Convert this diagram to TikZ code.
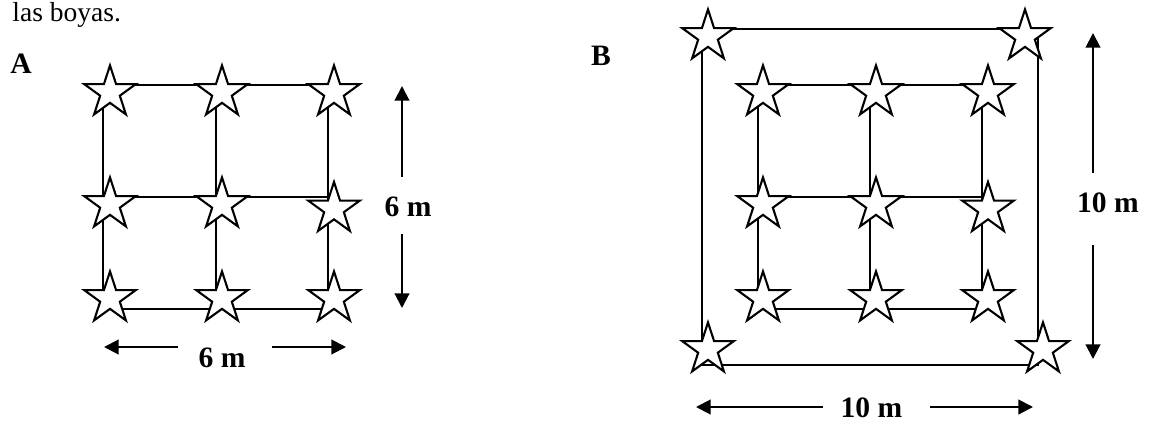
\documentclass[tikz,border=0pt]{standalone}
\usepackage{fontspec}
\setmainfont{Liberation Serif}
\usetikzlibrary{shapes.geometric,arrows.meta}
\begin{document}
\begin{tikzpicture}[x=0.48pt,y=-0.48pt,
  boya/.style={star,star points=5,star point ratio=2.618,draw,fill=white,line width=1pt,inner sep=0pt,minimum size=26pt},
  gridline/.style={line width=1pt},
  dimarrow/.style={line width=1pt,-{Triangle[length=7pt,width=7pt]}},
  lbl/.style={font=\fontsize{14.2}{16}\selectfont\bfseries,anchor=base,inner sep=0pt},
  txt/.style={font=\fontsize{13.2}{15}\selectfont,anchor=base west,inner sep=0pt}
]
\useasboundingbox (0,0) rectangle (1152,424);

% texts
\node[txt] (title) at (12,21) {las boyas.};
\node[lbl] (labA) at (21,73) {A};
\node[lbl] (labB) at (601,65) {B};

% ---------- grid A ----------
\draw[gridline] (103,85) rectangle (328,309);
\draw[gridline] (216,85) -- (216,309);
\draw[gridline] (103,197) -- (328,197);

\node[boya] (a11) at (110,92.5) {};
\node[boya] (a12) at (222,92.5) {};
\node[boya] (a13) at (334,92.5) {};
\node[boya] (a21) at (110,204.5) {};
\node[boya] (a22) at (222,204.5) {};
\node[boya] (a23) at (334,209) {};
\node[boya] (a31) at (110,298.5) {};
\node[boya] (a32) at (222,298.5) {};
\node[boya] (a33) at (334,298.5) {};

% dimensions A
\node[lbl] (dimAv) at (408,216) {6 m};
\coordinate (aup0) at (402,177);
\coordinate (aup1) at (402,86);
\coordinate (adn0) at (402,234);
\coordinate (adn1) at (402,308);
\draw[dimarrow] (aup0) -- (aup1);
\draw[dimarrow] (adn0) -- (adn1);

\node[lbl] (dimAh) at (222,367) {6 m};
\coordinate (alf0) at (178,347);
\coordinate (alf1) at (104,347);
\coordinate (art0) at (272,347);
\coordinate (art1) at (346,347);
\draw[dimarrow] (alf0) -- (alf1);
\draw[dimarrow] (art0) -- (art1);

% ---------- grid B ----------
\draw[gridline] (702,29) rectangle (1038,365);
\draw[gridline] (758,85) rectangle (982,309);
\draw[gridline] (870,85) -- (870,309);
\draw[gridline] (758,197) -- (982,197);

\node[boya] (o1) at (708,36.5) {};
\node[boya] (o2) at (1025,36.5) {};
\node[boya] (o3) at (708,349.5) {};
\node[boya] (o4) at (1043,349.5) {};

\node[boya] (b11) at (763,92.5) {};
\node[boya] (b12) at (876,92.5) {};
\node[boya] (b13) at (988,92.5) {};
\node[boya] (b21) at (763,204.5) {};
\node[boya] (b22) at (876,204.5) {};
\node[boya] (b23) at (988,209) {};
\node[boya] (b31) at (763,298.5) {};
\node[boya] (b32) at (876,298.5) {};
\node[boya] (b33) at (988,298.5) {};

% dimensions B
\node[lbl] (dimBv) at (1108,212) {10 m};
\coordinate (bup0) at (1093,173);
\coordinate (bup1) at (1093,33);
\coordinate (bdn0) at (1093,245);
\coordinate (bdn1) at (1093,359);
\draw[dimarrow] (bup0) -- (bup1);
\draw[dimarrow] (bdn0) -- (bdn1);

\node[lbl] (dimBh) at (871.5,417) {10 m};
\coordinate (blf0) at (823,407);
\coordinate (blf1) at (696,407);
\coordinate (brt0) at (930,407);
\coordinate (brt1) at (1033,407);
\draw[dimarrow] (blf0) -- (blf1);
\draw[dimarrow] (brt0) -- (brt1);
\end{tikzpicture}
\end{document}
